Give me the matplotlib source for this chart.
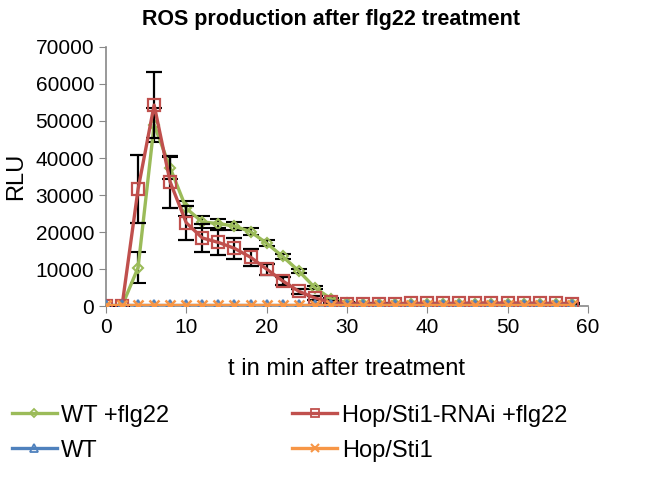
import matplotlib
matplotlib.use("Agg")
import matplotlib.pyplot as plt
from matplotlib.lines import Line2D
import numpy as np

plt.rcParams['font.family'] = ['Liberation Sans', 'DejaVu Sans']

# time points (min)
t = np.arange(0, 60, 2)

# WT +flg22
wt_flg = [0, 0, 10400, 49000, 37300, 26400, 22700, 22300, 21600, 20100, 17000, 13400, 9500,
          5000, 2000, 800, 600, 600, 600, 600, 600, 600, 600, 600, 600, 600, 600, 600, 600, 600]
wt_flg_err = [0, 0, 4300, 4600, 3000, 2000, 1700, 1200, 1000, 900, 800, 700, 600,
              500, 300, 200, 100, 100, 100, 100, 100, 100, 100, 100, 100, 100, 100, 100, 100, 100]

# Hop/Sti1-RNAi +flg22
hop_flg = [0, 0, 31600, 54300, 33500, 22500, 18400, 17200, 15600, 13200, 10000, 6800, 4000,
           2200, 1000, 600, 600, 600, 600, 700, 700, 700, 700, 800, 800, 800, 800, 700, 700, 600]
hop_flg_err = [0, 0, 9200, 9000, 7000, 4600, 3700, 3300, 2800, 2300, 1500, 1000, 700,
               500, 300, 200, 100, 100, 100, 100, 100, 100, 100, 100, 100, 100, 100, 100, 100, 100]

# controls without flg22
wt = [200] * 30
hop = [200] * 30

green, red, blue, orange = '#9BBB59', '#C0504D', '#4F81BD', '#F79646'

fig, ax = plt.subplots(figsize=(6.46, 4.79), dpi=100)
fig.subplots_adjust(left=0.164, right=0.91, top=0.902, bottom=0.361)

eb = dict(ecolor='black', elinewidth=1.6, capsize=6, capthick=1.8)
ax.errorbar(t, wt_flg, yerr=wt_flg_err, color=green, lw=2.4, marker='D', ms=5,
            mfc='none', mew=1.5, zorder=3, **eb)
ax.errorbar(t, hop_flg, yerr=hop_flg_err, color=red, lw=2.4, marker='s', ms=8,
            mfc='none', mew=1.6, zorder=4, **eb)
ax.plot(t, wt, color=blue, lw=2.4, marker='^', ms=7, mfc='none', mew=1.5, zorder=5)
ax.plot(t, hop, color=orange, lw=2.4, marker='x', ms=7, mew=1.8, zorder=6)

ax.set_xlim(0, 60)
ax.set_ylim(0, 70000)
ax.set_xticks(np.arange(0, 61, 10))
ax.set_yticks(np.arange(0, 70001, 10000))
ax.tick_params(labelsize=15, color='#888888', length=5)
for s in ['top', 'right']:
    ax.spines[s].set_visible(False)
for s in ['left', 'bottom']:
    ax.spines[s].set_color('#888888')
    ax.spines[s].set_linewidth(1.2)

ax.set_title('ROS production after flg22 treatment', fontsize=15.5, fontweight='bold',
             pad=16, x=0.467)
ax.set_xlabel('t in min after treatment', fontsize=17, labelpad=15)
ax.set_ylabel('RLU', fontsize=17, labelpad=6)

handles = [
    Line2D([], [], color=green, lw=2.4, marker='D', ms=4, mfc='none', mew=1.3, label='WT +flg22'),
    Line2D([], [], color=blue, lw=2.4, marker='^', ms=6, mfc='none', mew=1.3, label='WT'),
    Line2D([], [], color=red, lw=2.4, marker='s', ms=6, mfc='none', mew=1.3, label='Hop/Sti1-RNAi +flg22'),
    Line2D([], [], color=orange, lw=2.4, marker='x', ms=6, mew=1.5, label='Hop/Sti1'),
]
fig.legend(handles=handles, ncol=2, loc='upper left', bbox_to_anchor=(0.0, 0.18),
           frameon=False, fontsize=17, columnspacing=5.2, handlelength=1.9,
           handletextpad=0.2, labelspacing=0.55, borderpad=0)

fig.savefig('out.png')
